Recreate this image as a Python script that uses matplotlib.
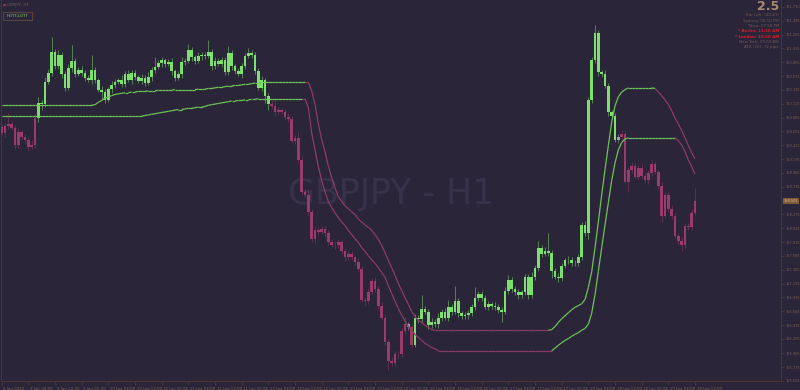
import matplotlib
matplotlib.use("Agg")
import matplotlib.pyplot as plt
from matplotlib.collections import LineCollection
from matplotlib.patches import Rectangle
import matplotlib.transforms as mtrans

# ---------------- data ----------------
first_open = 159.73
close = [
    159.63, 159.75, 159.78, 159.72, 159.43, 159.65, 159.57, 159.52, 159.40, 159.43,
    159.88, 160.13, 160.11, 160.48, 160.63, 160.98, 160.74, 160.93, 160.61, 160.38,
    160.71, 160.83, 160.61, 160.68, 160.63, 160.55, 160.51, 160.68, 160.51, 160.35,
    160.31, 160.18, 160.36, 160.43, 160.48, 160.51, 160.45, 160.61, 160.51, 160.63,
    160.56, 160.50, 160.55, 160.46, 160.56, 160.68, 160.73, 160.79, 160.84, 160.78,
    160.81, 160.66, 160.55, 160.61, 160.81, 160.83, 161.01, 160.89, 160.83, 160.91,
    160.93, 160.91, 160.98, 160.74, 160.83, 160.78, 160.84, 160.64, 160.96, 160.74,
    160.66, 160.61, 160.74, 160.91, 160.96, 160.93, 160.66, 160.38, 160.51, 160.25,
    160.11, 160.08, 159.98, 160.01, 159.98, 159.90, 159.86, 159.50, 159.55, 159.18,
    158.64, 158.60, 158.32, 157.86, 158.02, 157.99, 158.04, 157.96, 157.82, 157.77,
    157.76, 157.81, 157.66, 157.56, 157.61, 157.56, 157.49, 157.36, 156.86, 156.83,
    156.99, 157.16, 157.04, 156.76, 156.56, 156.16, 155.83, 155.80, 155.95, 155.96,
    156.33, 156.45, 156.41, 156.11, 156.56, 156.53, 156.71, 156.66, 156.43, 156.49,
    156.45, 156.56, 156.66, 156.56, 156.73, 156.66, 156.84, 156.63, 156.58, 156.60,
    156.63, 156.73, 156.89, 156.96, 156.88, 156.74, 156.78, 156.76, 156.73, 156.69,
    156.66, 157.01, 157.18, 157.03, 156.98, 156.93, 156.98, 157.23, 156.93, 157.23,
    157.39, 157.71, 157.62, 157.67, 157.64, 157.34, 157.24, 157.21, 157.42, 157.51,
    157.52, 157.46, 157.47, 157.56, 158.10, 157.97, 160.18, 160.84, 161.29, 160.64,
    160.61, 160.41, 159.98, 159.91, 159.52, 159.57, 159.62, 158.82, 159.02, 159.08,
    158.90, 159.05, 158.92, 158.84, 158.97, 159.12, 158.98, 158.75, 158.25, 158.60,
    158.37, 158.25, 157.92, 157.84, 157.76, 158.09, 158.07, 158.30, 158.50,
]
wick_up = [
    0.05, 0.04, 0.18, 0.05, 0.04, 0.06, 0.03, 0.05, 0.04, 0.08,
    0.06, 0.10, 0.05, 0.08, 0.06, 0.25, 0.05, 0.08, 0.04, 0.05,
    0.06, 0.27, 0.05, 0.04, 0.06, 0.05, 0.04, 0.25, 0.05, 0.04,
    0.06, 0.05, 0.04, 0.06, 0.05, 0.04, 0.08, 0.05, 0.06, 0.04,
    0.05, 0.04, 0.06, 0.05, 0.08, 0.05, 0.17, 0.06, 0.05, 0.04,
    0.05, 0.06, 0.04, 0.05, 0.08, 0.05, 0.10, 0.05, 0.04, 0.06,
    0.05, 0.04, 0.20, 0.05, 0.06, 0.04, 0.05, 0.06, 0.12, 0.05,
    0.04, 0.05, 0.06, 0.05, 0.08, 0.05, 0.04, 0.05, 0.06, 0.04,
    0.05, 0.06, 0.13, 0.05, 0.04, 0.05, 0.06, 0.05, 0.04, 0.10,
    0.06, 0.05, 0.08, 0.05, 0.06, 0.05, 0.04, 0.06, 0.05, 0.04,
    0.05, 0.06, 0.04, 0.05, 0.06, 0.05, 0.04, 0.06, 0.05, 0.04,
    0.06, 0.05, 0.08, 0.05, 0.06, 0.04, 0.05, 0.06, 0.05, 0.04,
    0.06, 0.12, 0.04, 0.05, 0.06, 0.05, 0.22, 0.05, 0.04, 0.06,
    0.05, 0.08, 0.05, 0.06, 0.12, 0.05, 0.25, 0.05, 0.04, 0.06,
    0.05, 0.06, 0.18, 0.05, 0.04, 0.06, 0.05, 0.04, 0.06, 0.05,
    0.04, 0.06, 0.08, 0.05, 0.06, 0.05, 0.04, 0.06, 0.05, 0.08,
    0.05, 0.13, 0.05, 0.06, 0.30, 0.05, 0.04, 0.06, 0.05, 0.04,
    0.06, 0.05, 0.04, 0.06, 0.05, 0.06, 0.05, 0.06, 0.13, 0.05,
    0.04, 0.06, 0.05, 0.04, 0.06, 0.05, 0.06, 0.05, 0.04, 0.06,
    0.05, 0.04, 0.06, 0.05, 0.04, 0.06, 0.05, 0.04, 0.06, 0.05,
    0.04, 0.06, 0.05, 0.04, 0.06, 0.05, 0.04, 0.06, 0.22,
]
wick_dn = [
    0.04, 0.06, 0.05, 0.04, 0.06, 0.05, 0.04, 0.06, 0.05, 0.04,
    0.05, 0.06, 0.10, 0.05, 0.04, 0.06, 0.05, 0.04, 0.06, 0.05,
    0.04, 0.06, 0.05, 0.04, 0.06, 0.05, 0.04, 0.06, 0.05, 0.04,
    0.13, 0.05, 0.04, 0.06, 0.05, 0.04, 0.06, 0.05, 0.04, 0.06,
    0.05, 0.04, 0.06, 0.05, 0.04, 0.06, 0.05, 0.04, 0.06, 0.05,
    0.04, 0.06, 0.05, 0.04, 0.06, 0.05, 0.04, 0.06, 0.05, 0.04,
    0.06, 0.05, 0.04, 0.06, 0.05, 0.04, 0.06, 0.05, 0.04, 0.06,
    0.05, 0.04, 0.06, 0.05, 0.04, 0.06, 0.05, 0.04, 0.06, 0.12,
    0.10, 0.04, 0.06, 0.05, 0.04, 0.06, 0.05, 0.04, 0.06, 0.05,
    0.04, 0.06, 0.05, 0.04, 0.06, 0.05, 0.04, 0.06, 0.05, 0.04,
    0.06, 0.05, 0.04, 0.06, 0.05, 0.04, 0.06, 0.05, 0.04, 0.08,
    0.05, 0.04, 0.06, 0.05, 0.04, 0.06, 0.15, 0.05, 0.04, 0.06,
    0.05, 0.04, 0.06, 0.05, 0.04, 0.06, 0.05, 0.04, 0.06, 0.05,
    0.04, 0.06, 0.05, 0.04, 0.06, 0.05, 0.04, 0.06, 0.05, 0.04,
    0.06, 0.05, 0.04, 0.06, 0.05, 0.04, 0.06, 0.05, 0.04, 0.06,
    0.18, 0.04, 0.06, 0.05, 0.04, 0.06, 0.05, 0.04, 0.06, 0.05,
    0.04, 0.06, 0.05, 0.04, 0.06, 0.12, 0.04, 0.06, 0.05, 0.04,
    0.06, 0.05, 0.04, 0.06, 0.05, 0.06, 0.10, 0.05, 0.04, 0.06,
    0.05, 0.04, 0.06, 0.05, 0.04, 0.06, 0.05, 0.04, 0.18, 0.05,
    0.04, 0.06, 0.05, 0.04, 0.06, 0.05, 0.04, 0.06, 0.10, 0.04,
    0.06, 0.05, 0.04, 0.06, 0.10, 0.04, 0.06, 0.05, 0.04,
]
# candle trend state: d = down (pink), u = up (green), n = neutral (grey)
trend = "d" * 11 + "u" * 70 + "d" * 41 + "n" + "d" + "u" * 61 + "n" + "d" * 23

hott = ([160.09] * 28 + [
    160.10, 160.14, 160.17, 160.21, 160.23, 160.25, 160.27, 160.28, 160.29, 160.30,
    160.30, 160.31, 160.31, 160.32, 160.32, 160.32, 160.33, 160.33, 160.33, 160.34,
    160.34, 160.34, 160.34, 160.34, 160.35, 160.35, 160.35, 160.35, 160.35, 160.35,
    160.35, 160.36, 160.36, 160.36, 160.37, 160.37, 160.38, 160.39, 160.39, 160.40,
    160.41, 160.41, 160.42, 160.42, 160.43, 160.44, 160.44, 160.45, 160.46, 160.46,
    160.47, 160.47] + [160.47] * 12 + [
    160.47, 160.33, 160.10, 159.78, 159.52, 159.32, 159.08, 158.89, 158.72, 158.57,
    158.49, 158.42, 158.37, 158.32, 158.27, 158.20, 158.15, 158.10, 158.06, 158.01,
    157.94, 157.86, 157.76, 157.64, 157.51, 157.39, 157.26, 157.13, 157.01, 156.89,
    156.78, 156.66, 156.58, 156.51, 156.48, 156.43, 156.40, 156.36] + [156.35] * 35 + [
    156.36, 156.41, 156.48, 156.54, 156.59, 156.64, 156.69, 156.73, 156.76, 156.79,
    156.86, 157.06, 157.32, 157.72, 158.15, 158.60, 159.02, 159.42, 159.81, 160.08,
    160.23, 160.31, 160.35] + [160.38] * 8 + [
    160.37, 160.31, 160.25, 160.18, 160.10, 160.00, 159.88, 159.78, 159.67, 159.55,
    159.42, 159.30, 159.20])
hott_state = "u" * 92 + "d" * 73 + "u" * 32 + "d" * 12

lott = ([159.91] * 43 + [
    159.92, 159.93, 159.94, 159.95, 159.96, 159.97, 159.98, 159.99, 160.00, 160.01,
    160.02, 160.02, 160.03, 160.04, 160.04, 160.05, 160.06, 160.06, 160.07, 160.09,
    160.10, 160.11, 160.12, 160.13, 160.14, 160.15, 160.16, 160.16, 160.17, 160.17,
    160.18, 160.18, 160.19, 160.19, 160.20] + [160.20] * 13 + [
    160.20, 160.05, 159.63, 159.35, 159.07, 158.84, 158.65, 158.49, 158.39, 158.30,
    158.22, 158.15, 158.09, 158.01, 157.94, 157.87, 157.81, 157.72, 157.66, 157.59,
    157.52, 157.46, 157.39, 157.31, 157.23, 157.09, 156.96, 156.83, 156.71, 156.60,
    156.50, 156.41, 156.35, 156.28, 156.23, 156.18, 156.13, 156.10, 156.06, 156.04]
    + [156.01] * 35 + [
    156.05, 156.10, 156.14, 156.18, 156.21, 156.25, 156.28, 156.31, 156.35, 156.38,
    156.45, 156.63, 156.94, 157.33, 157.72, 158.10, 158.47, 158.84, 159.13, 159.35,
    159.47, 159.53] + [159.55] * 15 + [
    159.50, 159.43, 159.32, 159.18, 159.07, 158.95])
lott_state = "u" * 91 + "d" * 75 + "u" * 37 + "d" * 6

time_labels = ["6 Jan 2023", "9 Jan 04:00", "9 Jan 12:00", "9 Jan 20:00",
               "10 Jan 04:00", "10 Jan 12:00", "10 Jan 20:00", "11 Jan 04:00",
               "11 Jan 12:00", "11 Jan 20:00", "12 Jan 04:00", "12 Jan 12:00",
               "12 Jan 20:00", "13 Jan 04:00", "13 Jan 12:00", "13 Jan 20:00",
               "16 Jan 04:00", "16 Jan 12:00", "16 Jan 20:00", "17 Jan 04:00",
               "17 Jan 12:00", "17 Jan 20:00", "18 Jan 04:00", "18 Jan 12:00",
               "18 Jan 20:00", "19 Jan 04:00", "19 Jan 12:00"]
label_every = 8
price_ticks = [161.730, 161.495, 161.265, 161.035, 160.805, 160.575, 160.345,
               160.115, 159.885, 159.655, 159.425, 159.195, 158.965, 158.735,
               158.505, 158.275, 158.045, 157.815, 157.585, 157.355, 157.125,
               156.895, 156.665, 156.435, 156.205, 155.965, 155.735, 155.505]
current_price = 158.505

info_lines = [("Bar Left: (00:43)", False), ("Sydney: 06:50 PM", False),
              ("Tokyo: 07:50 PM", False), ("* Berlin: 11:50 AM", True),
              ("* London: 10:50 AM", True), ("New York: 05:50 AM", False),
              ("ATR (20): 72 pips", False)]
spread_text = "2.5"

# ---------------- style ----------------
BG = "#2a2538"
GREEN = "#7ee06c"
PINK = "#9a3b6b"
GREY = "#a0a0a0"
LGREEN = "#6cc457"
LPINK = "#8e3c68"
AXC = "#4b3438"
TXT = "#7c5f56"
FS = 2.9
YFS = 2.55
state_col = {"u": GREEN, "d": PINK, "n": GREY}
line_col = {"u": LGREEN, "d": LPINK}

W, H = 800, 390
fig = plt.figure(figsize=(W / 100, H / 100), dpi=100, facecolor=BG)
ax = fig.add_axes([1 / W, 9 / H, 780 / W, 381 / H], facecolor=BG)

n = len(close)
opens = [first_open] + close[:-1]
xs = list(range(n))

# watermark
ax.text(0.5, 0.49, "GBPJPY - H1", transform=ax.transAxes, ha="center", va="center",
        fontsize=25, color="#37324a", zorder=0)

# candles
for i in xs:
    o, c = opens[i], close[i]
    lo_b, hi_b = min(o, c), max(o, c)
    col = state_col[trend[i]]
    ax.vlines(i, lo_b - wick_dn[i], hi_b + wick_up[i], color=col, lw=0.5,
              alpha=0.7, zorder=2)
    ax.bar(i, max(hi_b - lo_b, 0.012), bottom=lo_b, width=0.72, color=col,
           linewidth=0, zorder=3)

# HOTT / LOTT lines
for vals, st in ((hott, hott_state), (lott, lott_state)):
    segs = [[(i - 1, vals[i - 1]), (i, vals[i])] for i in range(1, n)]
    cols = [line_col[st[i]] for i in range(1, n)]
    ax.add_collection(LineCollection(segs, colors=cols, linewidths=0.9, zorder=4))

ax.set_xlim(-0.21, 233.8)
ax.set_ylim(155.514, 161.841)

# axes look
ax.spines["top"].set_visible(False)
for s in ("left", "right", "bottom"):
    ax.spines[s].set_color(AXC)
    ax.spines[s].set_linewidth(0.8)

ax.yaxis.tick_right()
ax.set_yticks(price_ticks)
ax.set_yticklabels(["" if v == current_price else f"{v:.3f}" for v in price_ticks])
ax.tick_params(axis="y", colors=AXC, labelcolor=TXT, labelsize=YFS, length=2.5,
               width=0.6, pad=1.0)
xt = [k * label_every for k in range(len(time_labels))]
ax.set_xticks(xt)
ax.set_xticklabels(time_labels, ha="left")
ax.tick_params(axis="x", colors=AXC, labelcolor=TXT, labelsize=FS, length=3,
               width=0.6, pad=1.0)
for lab in ax.get_xticklabels():
    lab.set_transform(lab.get_transform() + mtrans.ScaledTranslation(1.5 / 100, 0, fig.dpi_scale_trans))

# current price marker
trans = mtrans.blended_transform_factory(ax.transAxes, ax.transData)
ax.text(1.0035, current_price, f"{current_price:.3f}", transform=trans, ha="left",
        va="center", fontsize=YFS, color="#d8c0a0",
        bbox=dict(boxstyle="square,pad=0.3", fc="#7e5a36", ec="none"), clip_on=False, zorder=6)

# top-left header
def px(x, y):
    return x / W, 1 - y / H

fig.text(*px(3, 5), "\u25a0", fontsize=2.5, color="#8c3a3a", va="center", ha="left")
fig.text(*px(7, 5), "GBPJPY, H1", fontsize=FS, color="#6c5a58", va="center", ha="left")
fig.add_artist(Rectangle(px(3, 20), 29 / W, 8 / H, transform=fig.transFigure,
                         fc="none", ec="#5a4444", lw=0.8))
fig.text(*px(17.5, 16), "HOTT-LOTT", fontsize=2.9, color="#8fdc74", va="center", ha="center")

# top-right info
fig.text(*px(779, 7), spread_text, fontsize=9, fontweight="bold", color="#a88a72",
         ha="right", va="center")
for k, (t, hot) in enumerate(info_lines):
    fig.text(*px(779, 15.5 + 5.3 * k), t, fontsize=FS,
             color="#d41e2a" if hot else "#6e5a56", fontweight="bold" if hot else "normal",
             ha="right", va="center")

fig.savefig("out.png", dpi=100, facecolor=BG)
